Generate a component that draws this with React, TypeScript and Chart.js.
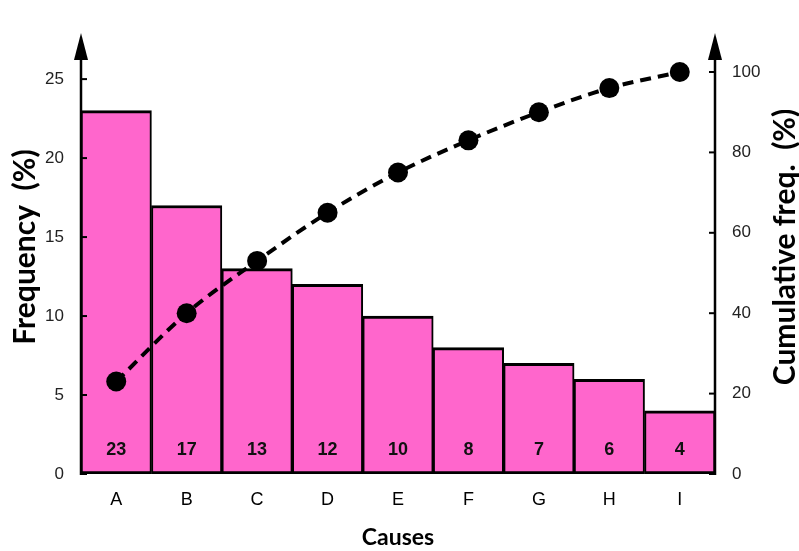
import React, { useEffect, useRef } from "react";
import { Chart, registerables } from "chart.js";

Chart.register(...registerables);

// Pareto data: causes sorted by frequency, with running cumulative share
const causes = ["A", "B", "C", "D", "E", "F", "G", "H", "I"];
const frequency = [23, 17, 13, 12, 10, 8, 7, 6, 4];
const cumulative = [23, 40, 53, 65, 75, 83, 90, 96, 100];
const frequencyTicks = [0, 5, 10, 15, 20, 25];
const cumulativeTicks = [0, 20, 40, 60, 80, 100];

const xTitle = "Causes";
const leftTitle = "Frequency  (%)";
const rightTitle = "Cumulative freq.  (%)";

const W = 799;
const H = 551;
const FREQ_MAX = 25.45;
const CUM_MAX = 100;

const TICK_FONT = "'Liberation Sans', Arial, sans-serif";
const TITLE_FONT = "Lato, 'Noto Sans', sans-serif";

// axis lines with arrow heads, plus short tick marks pointing into the plot
const axisDecor = {
  id: "axisDecor",
  afterDraw(chart: any) {
    const { ctx, chartArea, scales } = chart;
    const tip = 33;
    const base = 60;
    ctx.save();
    ctx.strokeStyle = "#000";
    ctx.fillStyle = "#000";
    ctx.lineWidth = 2.5;
    for (const x of [chartArea.left, chartArea.right]) {
      ctx.beginPath();
      ctx.moveTo(x, chartArea.bottom + 1);
      ctx.lineTo(x, base);
      ctx.stroke();
      ctx.beginPath();
      ctx.moveTo(x, tip);
      ctx.lineTo(x - 7, base);
      ctx.lineTo(x + 7, base);
      ctx.closePath();
      ctx.fill();
    }
    ctx.lineWidth = 2;
    const yl = scales.y;
    for (const v of frequencyTicks) {
      const y = yl.getPixelForValue(v);
      ctx.beginPath();
      ctx.moveTo(chartArea.left, y);
      ctx.lineTo(chartArea.left + 6, y);
      ctx.stroke();
    }
    const yr = scales.y1;
    for (const v of cumulativeTicks) {
      const y = yr.getPixelForValue(v);
      ctx.beginPath();
      ctx.moveTo(chartArea.right, y);
      ctx.lineTo(chartArea.right - 6, y);
      ctx.stroke();
    }
    ctx.restore();
  },
};

// value printed near the foot of each bar
const barValues = {
  id: "barValues",
  afterDatasetsDraw(chart: any) {
    const { ctx, scales } = chart;
    const meta = chart.getDatasetMeta(0);
    const y = scales.y.getPixelForValue(0) - 24;
    ctx.save();
    ctx.fillStyle = "#111";
    ctx.font = `bold 18px ${TICK_FONT}`;
    ctx.textAlign = "center";
    ctx.textBaseline = "middle";
    meta.data.forEach((bar: any, i: number) => {
      ctx.fillText(String(frequency[i]), bar.x, y);
    });
    ctx.restore();
  },
};

// both vertical titles read bottom-to-top
const sideTitles = {
  id: "sideTitles",
  afterDraw(chart: any) {
    const { ctx } = chart;
    ctx.save();
    ctx.fillStyle = "#000";
    ctx.font = `bold 30px ${TITLE_FONT}`;
    ctx.textAlign = "center";
    ctx.textBaseline = "middle";
    const draw = (text: string, x: number, y: number) => {
      ctx.save();
      ctx.translate(x, y);
      ctx.rotate(-Math.PI / 2);
      ctx.fillText(text, 0, 0);
      ctx.restore();
    };
    draw(leftTitle, 25, 247);
    draw(rightTitle, 785, 247);
    ctx.restore();
  },
};

export default function App() {
  const canvasRef = useRef<HTMLCanvasElement | null>(null);

  useEffect(() => {
    const canvas = canvasRef.current;
    if (!canvas) return;
    const chart = new Chart(canvas, {
      type: "bar",
      data: {
        labels: causes,
        datasets: [
          {
            type: "bar",
            label: "Frequency",
            data: frequency,
            yAxisID: "y",
            backgroundColor: "#FF66CC",
            borderColor: "#000",
            borderWidth: { top: 3, bottom: 3, left: 2, right: 2 },
            borderSkipped: false,
            categoryPercentage: 1,
            barPercentage: 1,
            order: 2,
          },
          {
            type: "line",
            label: "Cumulative",
            data: cumulative,
            yAxisID: "y1",
            borderColor: "#000",
            borderWidth: 4,
            borderDash: [11, 7],
            cubicInterpolationMode: "monotone",
            pointRadius: 10,
            pointBackgroundColor: "#000",
            pointBorderColor: "#000",
            pointBorderWidth: 0,
            fill: false,
            clip: false,
            order: 1,
          } as any,
        ],
      },
      options: {
        responsive: false,
        animation: false,
        devicePixelRatio: 1,
        layout: { padding: { top: 72, left: 0, right: 0, bottom: 0 } },
        plugins: {
          legend: { display: false },
          tooltip: { enabled: false },
        },
        scales: {
          x: {
            type: "category",
            grid: { display: false, drawTicks: false },
            border: { display: false },
            ticks: {
              padding: 15,
              color: "#000",
              font: { family: TICK_FONT, size: 18 },
              maxRotation: 0,
            },
            title: {
              display: true,
              text: xTitle,
              color: "#000",
              font: { family: TITLE_FONT, size: 23, weight: "bold" },
              padding: { top: 0, bottom: 0 },
            },
            afterFit(scale: any) {
              scale.height = 77;
            },
          },
          y: {
            position: "left",
            min: 0,
            max: FREQ_MAX,
            grid: { display: false, drawTicks: false },
            border: { display: false },
            afterBuildTicks(scale: any) {
              scale.ticks = frequencyTicks.map((v) => ({ value: v }));
            },
            ticks: {
              padding: 17,
              color: "#222",
              font: { family: TICK_FONT, size: 17 },
            },
            afterFit(scale: any) {
              scale.width = 81;
            },
          },
          y1: {
            position: "right",
            min: 0,
            max: CUM_MAX,
            grid: { display: false, drawTicks: false },
            border: { display: false },
            afterBuildTicks(scale: any) {
              scale.ticks = cumulativeTicks.map((v) => ({ value: v }));
            },
            ticks: {
              padding: 17,
              color: "#222",
              font: { family: TICK_FONT, size: 17 },
            },
            afterFit(scale: any) {
              scale.width = W - 715;
            },
          },
        },
      },
      plugins: [barValues, axisDecor, sideTitles],
    });
    return () => chart.destroy();
  }, []);

  return (
    <div style={{ position: "absolute", left: 0, top: 0, width: W, height: H, background: "#fff" }}>
      <canvas ref={canvasRef} width={W} height={H} style={{ display: "block" }} />
    </div>
  );
}
